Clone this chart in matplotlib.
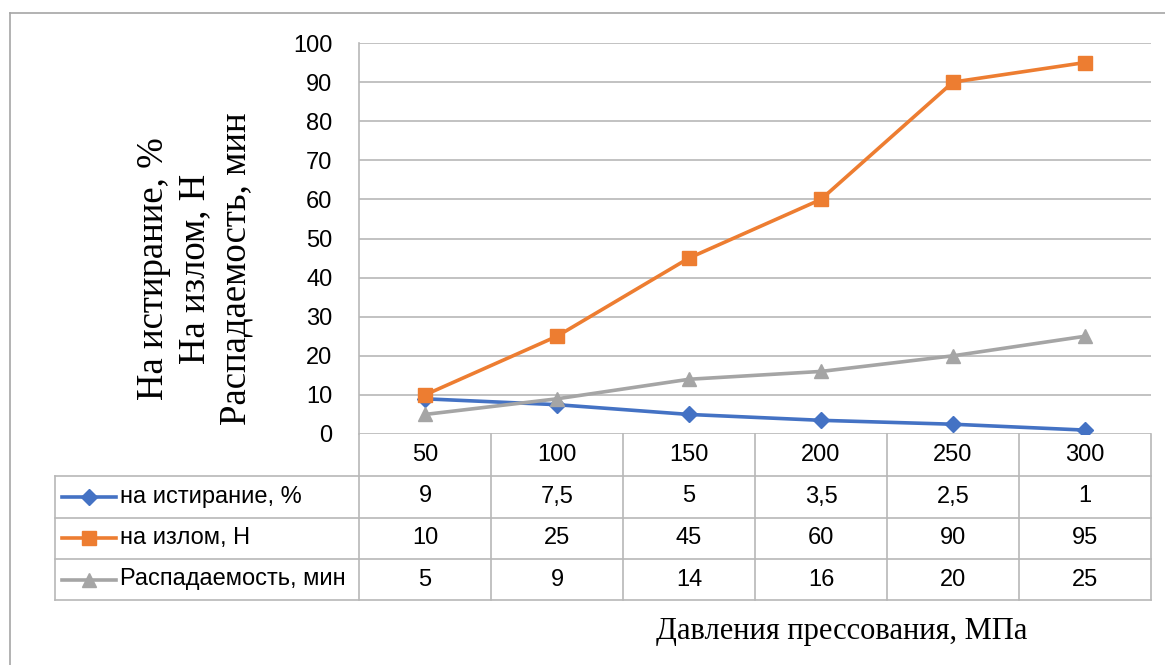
import numpy as np
import matplotlib
matplotlib.use("Agg")
import matplotlib.pyplot as plt
import matplotlib.transforms as mtransforms
from matplotlib.lines import Line2D

# data
pressure = ["50", "100", "150", "200", "250", "300"]
abrasion = [9, 7.5, 5, 3.5, 2.5, 1]
fracture = [10, 25, 45, 60, 90, 95]
disint = [5, 9, 14, 16, 20, 25]
series_names = ["на истирание, %", "на излом, Н", "Распадаемость, мин"]
series_vals = [abrasion, fracture, disint]
colors = ["#4472C4", "#ED7D31", "#A5A5A5"]
markers = ["D", "s", "^"]
msizes = [8, 9.5, 10]

W, H = 1165, 665
def fx(px):
    return px / W
def fy(py):
    return 1 - py / H

plt.rcParams['font.family'] = ['Liberation Sans', 'DejaVu Sans']
grid_c = "#b8b8b8"
fs = 17

fig = plt.figure(figsize=(W / 100, H / 100), dpi=100)
ax = fig.add_axes([fx(359), fy(434), fx(1151) - fx(359), (434 - 43) / H])

x = np.arange(len(pressure))
for vals, c, m, ms in zip(series_vals, colors, markers, msizes):
    ax.plot(x, vals, color=c, lw=2.6, marker=m, ms=ms, zorder=3)

ax.set_xlim(-0.5, len(pressure) - 0.5)
ax.set_ylim(0, 100)
ax.set_yticks(range(0, 101, 10))
ax.set_xticks([])
ax.tick_params(axis='y', length=0, pad=19, labelsize=fs)
ax.yaxis.grid(True, color=grid_c, lw=1.2)
for s in ["top", "right", "bottom"]:
    ax.spines[s].set_visible(False)
ax.spines["left"].set_color(grid_c)
ax.spines["left"].set_linewidth(1.2)

# data table below the axis
trans = mtransforms.blended_transform_factory(ax.transData, fig.transFigure)
row_lines = [476, 517.5, 559, 600]
row_centers = [455, 496.5, 538, 579.5]
for yl in row_lines:
    fig.add_artist(Line2D([fx(55), fx(1151)], [fy(yl), fy(yl)], color=grid_c, lw=1.2))
fig.add_artist(Line2D([fx(55), fx(55)], [fy(476), fy(600)], color=grid_c, lw=1.2))
for b in np.arange(len(pressure) + 1) - 0.5:
    ax.plot([b, b], [fy(434), fy(600)], transform=trans, color=grid_c, lw=1.2, clip_on=False)

for i, p in enumerate(pressure):
    ax.text(i, fy(row_centers[0]), p, transform=trans, ha='center', va='center', fontsize=fs)
for r, (name, vals, c, m, ms) in enumerate(zip(series_names, series_vals, colors, markers, msizes)):
    yc = fy(row_centers[r + 1])
    fig.add_artist(Line2D([fx(62), fx(89), fx(116)], [yc, yc, yc], color=c, lw=2.6,
                          marker=m, ms=ms, markevery=[1]))
    fig.text(fx(120), yc, name, ha='left', va='center', fontsize=fs)
    for i, v in enumerate(vals):
        ax.text(i, yc, f"{v:g}".replace('.', ','), transform=trans,
                ha='center', va='center', fontsize=fs)

# axis titles
fig.text(fx(195), fy(269), "На истирание, %\nНа излом, Н\nРаспадаемость, мин",
         rotation=90, ha='center', va='center', multialignment='center',
         family='Liberation Serif', fontsize=26.5, linespacing=1.25)
fig.text(fx(842), fy(632), "Давления прессования, МПа", ha='center', va='center',
         family='Liberation Serif', fontsize=22)

# chart frame
fig.add_artist(Line2D([fx(10), fx(10)], [fy(13), 0], color="#a6a6a6", lw=1.2))
fig.add_artist(Line2D([fx(10), 1], [fy(13), fy(13)], color="#a6a6a6", lw=1.2))

fig.savefig("out.png", dpi=100)
